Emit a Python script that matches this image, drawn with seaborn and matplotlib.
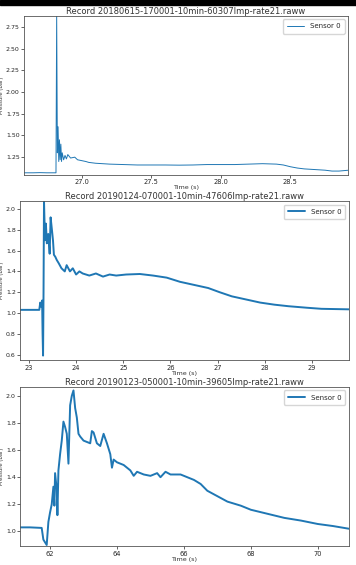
import pandas as pd
import matplotlib
matplotlib.use("Agg")
import matplotlib.pyplot as plt
import seaborn as sns

# record 1
titulo1 = "Record 20180615-170001-10min-60307lmp-rate21.raww"
t1 = [26.58, 26.65, 26.70, 26.75, 26.80, 26.815, 26.82, 26.825, 26.83, 26.835, 26.84,
      26.845, 26.85, 26.855, 26.86, 26.87, 26.88, 26.89, 26.90, 26.92, 26.95, 26.97,
      27.0, 27.03, 27.05, 27.1, 27.15, 27.2, 27.3, 27.4, 27.5, 27.6, 27.7, 27.8, 27.9,
      28.0, 28.1, 28.2, 28.3, 28.4, 28.45, 28.5, 28.55, 28.6, 28.65, 28.7, 28.75,
      28.8, 28.85, 28.92]
p1 = [1.07, 1.07, 1.072, 1.07, 1.07, 1.07, 2.88, 1.30, 1.60, 1.20, 1.45,
      1.22, 1.40, 1.20, 1.30, 1.22, 1.27, 1.23, 1.28, 1.24, 1.25, 1.22,
      1.21, 1.20, 1.19, 1.18, 1.175, 1.17, 1.165, 1.16, 1.16, 1.16, 1.158, 1.16, 1.165,
      1.165, 1.165, 1.17, 1.175, 1.17, 1.16, 1.14, 1.125, 1.115, 1.11, 1.105, 1.10,
      1.09, 1.09, 1.10]

# record 2
titulo2 = "Record 20190124-070001-10min-47606lmp-rate21.raww"
t2 = [22.81, 23.0, 23.15, 23.22, 23.24, 23.26, 23.28, 23.29, 23.30, 23.31, 23.32,
      23.34, 23.36, 23.38, 23.41, 23.44, 23.46, 23.49, 23.51, 23.53, 23.56, 23.59,
      23.63, 23.69, 23.76, 23.8, 23.87, 23.93, 24.0, 24.07, 24.14, 24.28, 24.42,
      24.57, 24.71, 24.85, 25.06, 25.35, 25.63, 25.92, 26.2, 26.5, 26.8, 27.04,
      27.3, 27.6, 27.9, 28.2, 28.5, 28.9, 29.2, 29.78]
p2 = [1.03, 1.03, 1.03, 1.03, 1.10, 1.06, 1.12, 0.80, 0.59, 1.20, 2.08,
      1.70, 1.86, 1.67, 1.76, 1.57, 1.92, 1.79, 1.70, 1.56, 1.54, 1.51,
      1.48, 1.43, 1.40, 1.46, 1.40, 1.43, 1.37, 1.40, 1.38, 1.36, 1.38,
      1.35, 1.37, 1.36, 1.37, 1.375, 1.36, 1.34, 1.30, 1.27, 1.24, 1.20,
      1.16, 1.13, 1.10, 1.08, 1.065, 1.05, 1.04, 1.035]

# record 3
titulo3 = "Record 20190123-050001-10min-39605lmp-rate21.raww"
t3 = [61.10, 61.4, 61.75, 61.80, 61.90, 61.95, 62.00, 62.05, 62.10, 62.13, 62.15,
      62.20, 62.22, 62.25, 62.30, 62.35, 62.40, 62.45, 62.50, 62.55, 62.60, 62.65,
      62.70, 62.75, 62.80, 62.85, 62.90, 63.00, 63.10, 63.20, 63.25, 63.30, 63.40,
      63.50, 63.60, 63.70, 63.80, 63.85, 63.90, 64.00, 64.20, 64.40, 64.50, 64.60,
      64.80, 65.00, 65.20, 65.30, 65.45, 65.60, 65.90, 66.10, 66.30, 66.50, 66.70,
      67.00, 67.30, 67.70, 68.00, 68.50, 69.00, 69.50, 70.00, 70.45, 70.93]
p3 = [1.03, 1.03, 1.026, 0.94, 0.90, 1.07, 1.14, 1.20, 1.33, 1.19, 1.43,
      1.31, 1.12, 1.45, 1.57, 1.67, 1.81, 1.77, 1.72, 1.50, 1.93, 2.00,
      2.04, 1.91, 1.84, 1.72, 1.70, 1.67, 1.66, 1.65, 1.74, 1.73, 1.65,
      1.63, 1.72, 1.65, 1.57, 1.47, 1.53, 1.51, 1.49, 1.45, 1.41, 1.44,
      1.42, 1.41, 1.43, 1.40, 1.44, 1.42, 1.42, 1.40, 1.38, 1.35, 1.30,
      1.26, 1.22, 1.19, 1.16, 1.13, 1.10, 1.08, 1.055, 1.04, 1.02]

sns.set_style("ticks")
plt.rcParams['font.family'] = ['DejaVu Sans']

fig = plt.figure(figsize=(3.56, 5.65), dpi=100)

registros = [
    (titulo1, t1, p1, [0.067, 0.690, 0.911, 0.282], (26.584, 28.916), (1.043, 2.877),
     [27.0, 27.5, 28.0, 28.5], [1.25, 1.5, 1.75, 2.0, 2.25, 2.5, 2.75], 0.7, "%.2f", "%.1f"),
    (titulo2, t2, p2, [0.056, 0.362, 0.924, 0.282], (22.81, 29.78), (0.543, 2.076),
     [23, 24, 25, 26, 27, 28, 29], [0.6, 0.8, 1.0, 1.2, 1.4, 1.6, 1.8, 2.0], 1.4, "%.1f", "%d"),
    (titulo3, t3, p3, [0.056, 0.033, 0.924, 0.282], (61.10, 70.93), (0.89, 2.065),
     [62, 64, 66, 68, 70], [1.0, 1.2, 1.4, 1.6, 1.8, 2.0], 1.4, "%.1f", "%d"),
]

for titulo, t, p, pos, xl, yl, xt, yt, lw, yfmt, xfmt in registros:
    ax = fig.add_axes(pos)
    df = pd.DataFrame({'Time (s)': t, 'Pressure (bar)': p})
    sns.lineplot(data=df, x='Time (s)', y='Pressure (bar)', ax=ax, color='#1f77b4',
                 linewidth=lw, estimator=None, sort=False, label='Sensor 0')
    ax.set_xlim(xl)
    ax.set_ylim(yl)
    ax.set_xticks(xt)
    ax.set_yticks(yt)
    ax.set_xticklabels([xfmt % v for v in xt])
    ax.set_yticklabels([yfmt % v for v in yt])
    ax.tick_params(axis='x', labelsize=4.8, length=2, width=0.5, pad=1)
    ax.tick_params(axis='y', labelsize=4.5, length=2, width=0.5, pad=1)
    for s in ax.spines.values():
        s.set_linewidth(0.6)
        s.set_color('#555555')
    ax.set_title(titulo, fontsize=6, pad=1.5, color='#333333')
    ax.set_xlabel('Time (s)', fontsize=4.6, labelpad=0, color='#333333')
    ax.set_ylabel('Pressure (bar)', fontsize=3.8, color='#333333')
    # etiqueta y pegada al borde izquierdo de la figura
    izq = pos[0] * 356
    ancho = pos[2] * 356
    ax.yaxis.set_label_coords(-(izq - 3.8) / ancho, 0.5)
    ax.legend(loc='upper right', fontsize=5, handlelength=2.5, borderpad=0.6)

# franja negra de la captura
fig.patches.append(plt.Rectangle((0, 0.991), 1, 0.009, transform=fig.transFigure,
                                 color='black', zorder=10))

plt.savefig('out.png', dpi=100)
